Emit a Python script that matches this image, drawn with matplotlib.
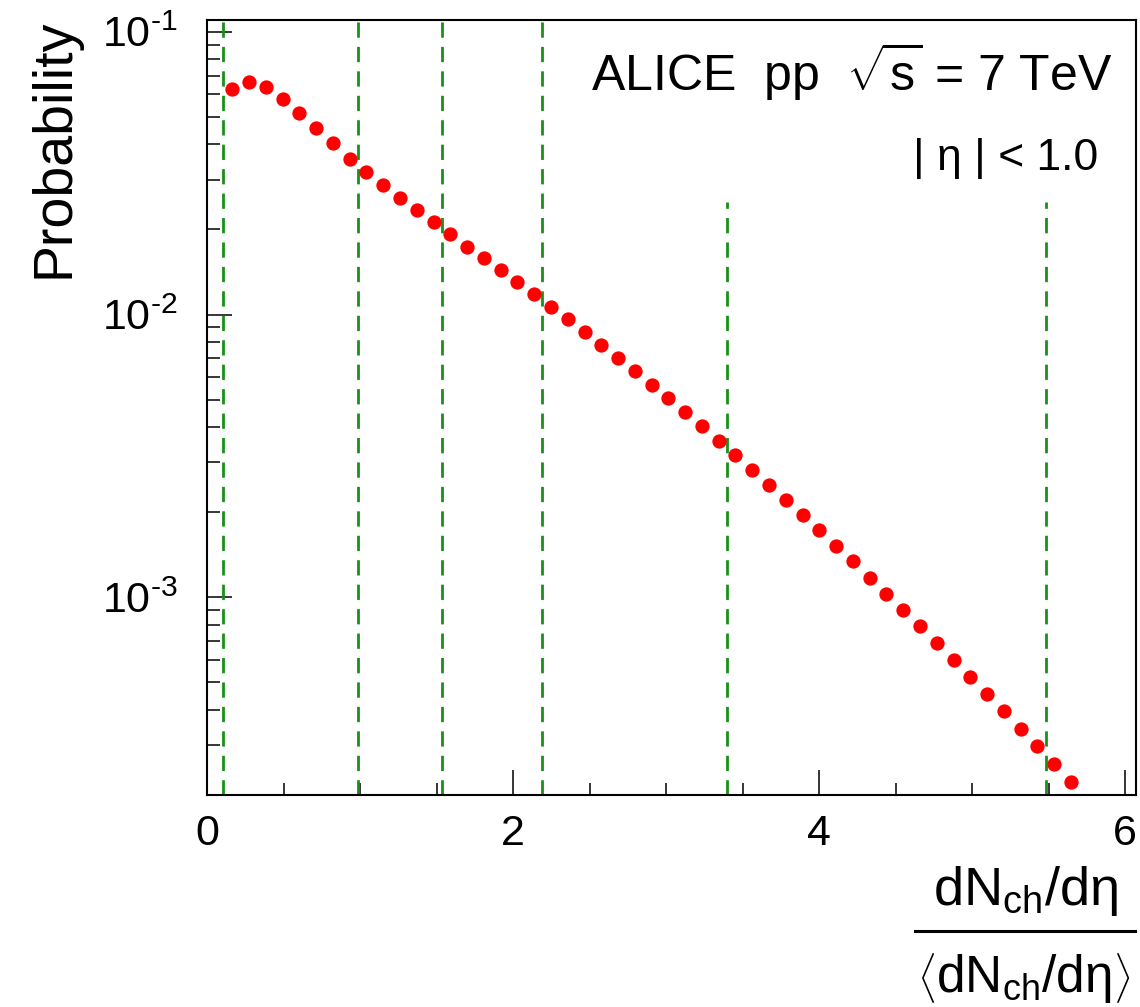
"""
Multiplicity distribution, ALICE pp at sqrt(s) = 7 TeV, |eta| < 1.0.
Probability vs dNch/deta / <dNch/deta>, with the class boundaries.
"""

import matplotlib
matplotlib.use('Agg')
import numpy as np
import matplotlib.pyplot as plt
from matplotlib.lines import Line2D
from matplotlib.ticker import (FuncFormatter, LogLocator, MultipleLocator,
                               NullFormatter)

# ── Data ────────────────────────────────────────────────────────────────
mult_x = [0.165, 0.275, 0.384, 0.494, 0.603, 0.713, 0.823, 0.932, 1.042,
          1.151, 1.261, 1.371, 1.480, 1.590, 1.699, 1.809, 1.919, 2.028,
          2.138, 2.247, 2.357, 2.467, 2.576, 2.686, 2.795, 2.905, 3.015,
          3.124, 3.234, 3.343, 3.453, 3.563, 3.672, 3.782, 3.891, 4.001,
          4.111, 4.220, 4.330, 4.439, 4.549, 4.659, 4.768, 4.878, 4.987,
          5.097, 5.207, 5.316, 5.426, 5.535, 5.645]
prob = [0.0625, 0.0666, 0.0636, 0.0579, 0.0516, 0.0455, 0.0403, 0.0356,
        0.0319, 0.0287, 0.0259, 0.0234, 0.0212, 0.0192, 0.0174, 0.0159,
        0.0144, 0.0130, 0.0118, 0.01067, 0.00965, 0.00868, 0.00781,
        0.00702, 0.00630, 0.00564, 0.00505, 0.00451, 0.00402, 0.00357,
        0.00318, 0.00282, 0.00250, 0.00221, 0.00195, 0.00173, 0.00152,
        0.00134, 0.00117, 0.00103, 0.000903, 0.000792, 0.000691, 0.000602,
        0.000524, 0.000456, 0.000396, 0.000343, 0.000298, 0.000258,
        0.000223]

# class boundaries (dashed green lines) and how high they reach
bound_x = [0.107, 0.985, 1.534, 2.19, 3.396, 5.48]
bound_top = [0.11, 0.11, 0.11, 0.11, 0.025, 0.025]

X_RANGE = (0, 6.07)
Y_RANGE = (2.0e-4, 0.11)

GREEN = '#1a8f1a'
FONT = ['Liberation Sans', 'DejaVu Sans']


def setup_style():
    plt.rcParams['font.family'] = FONT
    plt.rcParams['mathtext.fontset'] = 'custom'
    plt.rcParams['mathtext.rm'] = 'Liberation Sans'
    plt.rcParams['mathtext.it'] = 'Liberation Sans:italic'
    plt.rcParams['mathtext.bf'] = 'Liberation Sans:bold'
    plt.rcParams['axes.unicode_minus'] = False
    plt.rcParams['axes.linewidth'] = 1.5


def root_pow10(v, _pos):
    # ROOT style "10^-1" with a short hyphen in the exponent
    e = int(round(np.log10(v)))
    exp = str(e).replace('-', '\u2010')
    return r'10$^{\mathrm{%s}}$' % exp


def main():
    setup_style()

    fig = plt.figure(figsize=(11.4, 10.07), dpi=100)
    ax = fig.add_axes([0.1816, 0.2105, 0.8149, 0.7696])

    # ── Boundaries + points ─────────────────────────────────────────────
    ax.vlines(bound_x, Y_RANGE[0], bound_top, colors=GREEN, lw=2.0,
              linestyles=(0, (5.5, 3.3)), zorder=2)
    ax.plot(mult_x, prob, 'o', color='#ff0000', markersize=10.3,
            markeredgewidth=0, zorder=3)

    ax.set_yscale('log')
    ax.set_xlim(*X_RANGE)
    ax.set_ylim(*Y_RANGE)

    # ROOT-like ticks: inside, left and bottom only
    ax.xaxis.set_major_locator(MultipleLocator(2))
    ax.xaxis.set_minor_locator(MultipleLocator(0.5))
    ax.yaxis.set_major_locator(LogLocator(base=10))
    ax.yaxis.set_minor_locator(LogLocator(base=10, subs=range(2, 10)))
    ax.yaxis.set_major_formatter(FuncFormatter(root_pow10))
    ax.yaxis.set_minor_formatter(NullFormatter())
    ax.tick_params(which='both', direction='in', top=False, right=False,
                   width=1.1, colors='black')
    ax.tick_params(which='major', length=18, labelsize=31)
    ax.tick_params(which='minor', length=9)
    ax.tick_params(axis='x', which='major', pad=14)
    ax.tick_params(axis='y', which='major', pad=21)

    # ── Labels ──────────────────────────────────────────────────────────
    fig.text(0.048, 0.982, 'Probability', rotation=90, ha='center',
             va='top', fontsize=40)

    fig.text(0.976, 1 - 90 / 1007, r'ALICE  pp  $\sqrt{\mathrm{s}}$ = 7 TeV',
             ha='right', va='baseline', fontsize=36)
    fig.text(0.963, 1 - 170 / 1007, '| η | < 1.0', ha='right',
             va='baseline', fontsize=32)

    # x title as a fraction
    fig.text(1025 / 1140, 1 - 905 / 1007, r'dN$_{\mathrm{ch}}$/dη',
             ha='center', va='baseline', fontsize=39)
    fig.add_artist(Line2D([915 / 1140, 1135 / 1140],
                          [1 - 931 / 1007, 1 - 931 / 1007],
                          transform=fig.transFigure, color='black', lw=2.2))
    fig.text(1024 / 1140, 1 - 992 / 1007,
             r'$\left\langle\mathrm{dN_{ch}/d\eta}\right\rangle$',
             ha='center', va='baseline', fontsize=37)

    fig.savefig('out.png', dpi=100)


if __name__ == '__main__':
    main()
